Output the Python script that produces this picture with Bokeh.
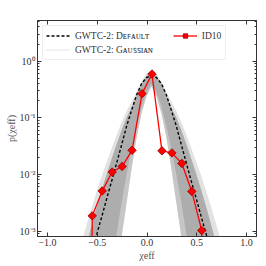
from bokeh.plotting import figure
from bokeh.models import (Legend, LegendItem, LogAxis, LinearAxis, FixedTicker,
                          CustomJSTickFormatter, Range1d)
from bokeh.embed import file_html
from bokeh.resources import INLINE

# ---- data ----
# ID10 histogram (x, p); the end values are zero (drawn as tiny numbers on the log axis)
id10_x = [-0.65, -0.55, -0.45, -0.35, -0.25, -0.15, -0.05, 0.05, 0.15, 0.25, 0.35, 0.45, 0.55, 0.65]
id10_p = [1e-30, 1.85e-3, 5.1e-3, 1.1e-2, 1.38e-2, 2.66e-2, 0.266, 0.59, 2.6e-2, 2.39e-2, 1.56e-2, 5.0e-3, 1.02e-3, 1e-30]

# GWTC-2 default median (distance from centre, log10 p)
curve_center = 0.045
def_h = [0.0, 0.05, 0.10, 0.15, 0.20, 0.25, 0.30, 0.35, 0.40, 0.45, 0.50, 0.55, 0.60, 0.65, 0.70]
def_log = [-0.26, -0.29, -0.40, -0.60, -0.87, -1.15, -1.48, -1.80, -2.12, -2.43, -2.75, -3.06, -3.37, -3.68, -4.0]

# credible bands (distance from centre, log10 p)
band_h = [0.0, 0.05, 0.10, 0.15, 0.20, 0.25, 0.30, 0.35, 0.40, 0.45, 0.50, 0.55, 0.60, 0.65, 0.70, 0.75, 0.80]
gauss_up = [-0.16, -0.22, -0.36, -0.55, -0.72, -0.88, -1.08, -1.30, -1.54, -1.78, -2.03, -2.30, -2.58, -2.88, -3.18, -3.50, -3.85]
default_up = [-0.20, -0.27, -0.42, -0.62, -0.82, -1.00, -1.22, -1.47, -1.73, -2.00, -2.28, -2.58, -2.90, -3.22, -3.56, -3.90, -4.30]
gauss_lo = [-0.45, -0.62, -0.92, -1.35, -1.90, -2.50, -3.10, -3.70, -4.40, -5.0, -5.0, -5.0, -5.0, -5.0, -5.0, -5.0, -5.0]
default_lo = [-0.40, -0.55, -0.80, -1.15, -1.55, -2.00, -2.50, -3.05, -3.60, -4.20, -5.0, -5.0, -5.0, -5.0, -5.0, -5.0, -5.0]

x_ticks = [-1.0, -0.5, 0.0, 0.5, 1.0]
y_ticks = [1e-3, 1e-2, 1e-1, 1.0]
y_minor = [k * 10 ** e for e in (-4, -3, -2, -1, 0) for k in range(2, 10)]


def mirror_x(hs, c):
    return [c - h for h in reversed(hs)] + [c + h for h in hs[1:]]


def mirror_p(logs):
    vals = [10 ** v for v in logs]
    return list(reversed(vals)) + vals[1:]


FONT = "Liberation Serif"

p = figure(width=259, height=266, x_range=Range1d(-1.1, 1.1), y_range=Range1d(8e-4, 5.2),
           y_axis_type="log", output_backend="svg", toolbar_location=None,
           min_border_left=37, min_border_right=3, min_border_top=20, min_border_bottom=30)
p.background_fill_color = "white"
p.border_fill_color = "white"
p.grid.visible = False
p.outline_line_color = "#333333"
p.outline_line_width = 0.8

bx = mirror_x(band_h, curve_center)
p.varea(x=bx, y1=mirror_p(gauss_lo), y2=mirror_p(gauss_up), fill_color="#e2e2e2")
p.varea(x=bx, y1=mirror_p(gauss_lo), y2=mirror_p(default_up), fill_color="#c6c6c6")
p.varea(x=bx, y1=mirror_p(default_lo), y2=mirror_p(default_up), fill_color="#adadad")

dx = mirror_x(def_h, curve_center)
dp = mirror_p(def_log)
r_gauss = p.line(dx, dp, line_color="#c8c8c8", line_width=1.0, line_dash="1 1")
r_def = p.line(dx, dp, line_color="black", line_width=1.4, line_dash="3 2")

r_id_line = p.line(id10_x, id10_p, line_color="#ff0000", line_width=1.3)
r_id_mark = p.scatter(id10_x, id10_p, marker="square", angle=0.785398, size=6,
                      fill_color="#ff0000", line_color="#990000", line_width=0.8)

for ax in (p.xaxis[0], p.yaxis[0]):
    ax.axis_line_color = "#333333"
    ax.major_tick_line_color = "#333333"
    ax.minor_tick_line_color = "#333333"
    ax.major_tick_in = 4
    ax.major_tick_out = 0
    ax.major_label_text_font = FONT
    ax.major_label_text_font_size = "10px"
    ax.major_label_text_color = "#333333"
    ax.axis_label_text_font = FONT
    ax.axis_label_text_font_style = "normal"
    ax.axis_label_text_color = "#555555"
    ax.axis_label_text_font_size = "10px"

p.xaxis[0].ticker = FixedTicker(ticks=x_ticks)
p.xaxis[0].formatter = CustomJSTickFormatter(
    code="return (tick < 0 ? '\\u2212' : '') + Math.abs(tick).toFixed(1);")
p.xaxis[0].minor_tick_in = 0
p.xaxis[0].minor_tick_out = 0
p.xaxis[0].major_label_standoff = 2
p.xaxis[0].axis_label = "χeff"
p.xaxis[0].axis_label_standoff = 1

p.yaxis[0].ticker = FixedTicker(ticks=y_ticks, minor_ticks=y_minor)
p.yaxis[0].formatter = CustomJSTickFormatter(code="""
const e = Math.round(Math.log10(tick));
const sup = {'-':'\\u207b','0':'\\u2070','1':'\\u00b9','2':'\\u00b2','3':'\\u00b3'};
return '10' + String(e).split('').map(c => sup[c]).join('');
""")
p.yaxis[0].minor_tick_in = 2
p.yaxis[0].minor_tick_out = 0
p.yaxis[0].major_label_standoff = 2
p.yaxis[0].axis_label = "p(χeff)"
p.yaxis[0].axis_label_standoff = 0

top = LinearAxis(ticker=FixedTicker(ticks=x_ticks), major_label_text_color=None,
                 major_label_text_font_size="1px",
                 major_tick_in=4, major_tick_out=0, minor_tick_in=0, minor_tick_out=0,
                 axis_line_color="#333333", major_tick_line_color="#333333",
                 major_label_standoff=0)
right = LogAxis(ticker=FixedTicker(ticks=y_ticks, minor_ticks=y_minor),
                major_label_text_color=None, major_label_text_font_size="1px",
                major_label_standoff=0,
                major_tick_in=4, major_tick_out=0, minor_tick_in=2, minor_tick_out=0,
                axis_line_color="#333333", major_tick_line_color="#333333", minor_tick_line_color="#333333")
p.add_layout(top, "above")
p.add_layout(right, "right")

legend = Legend(items=[
    LegendItem(label="GWTC-2: Dᴇꜰᴀᴜʟᴛ", renderers=[r_def]),
    LegendItem(label="GWTC-2: Gᴀᴜꜱꜱɪᴀɴ\u2002\u2002\u2002\u2002", renderers=[r_gauss]),
    LegendItem(label="ID10", renderers=[r_id_line, r_id_mark]),
], location="top_left", nrows=2)
legend.label_text_font = FONT
legend.label_text_font_size = "9.5px"
legend.label_text_color = "#333333"
legend.glyph_width = 24
legend.glyph_height = 11
legend.label_height = 11
legend.spacing = 1
legend.padding = 3
legend.margin = 5
legend.label_standoff = 5
legend.border_line_color = "#dddddd"
legend.border_line_width = 1
legend.background_fill_alpha = 0.85
p.add_layout(legend)

open("out.html", "w").write(file_html(p, INLINE))
